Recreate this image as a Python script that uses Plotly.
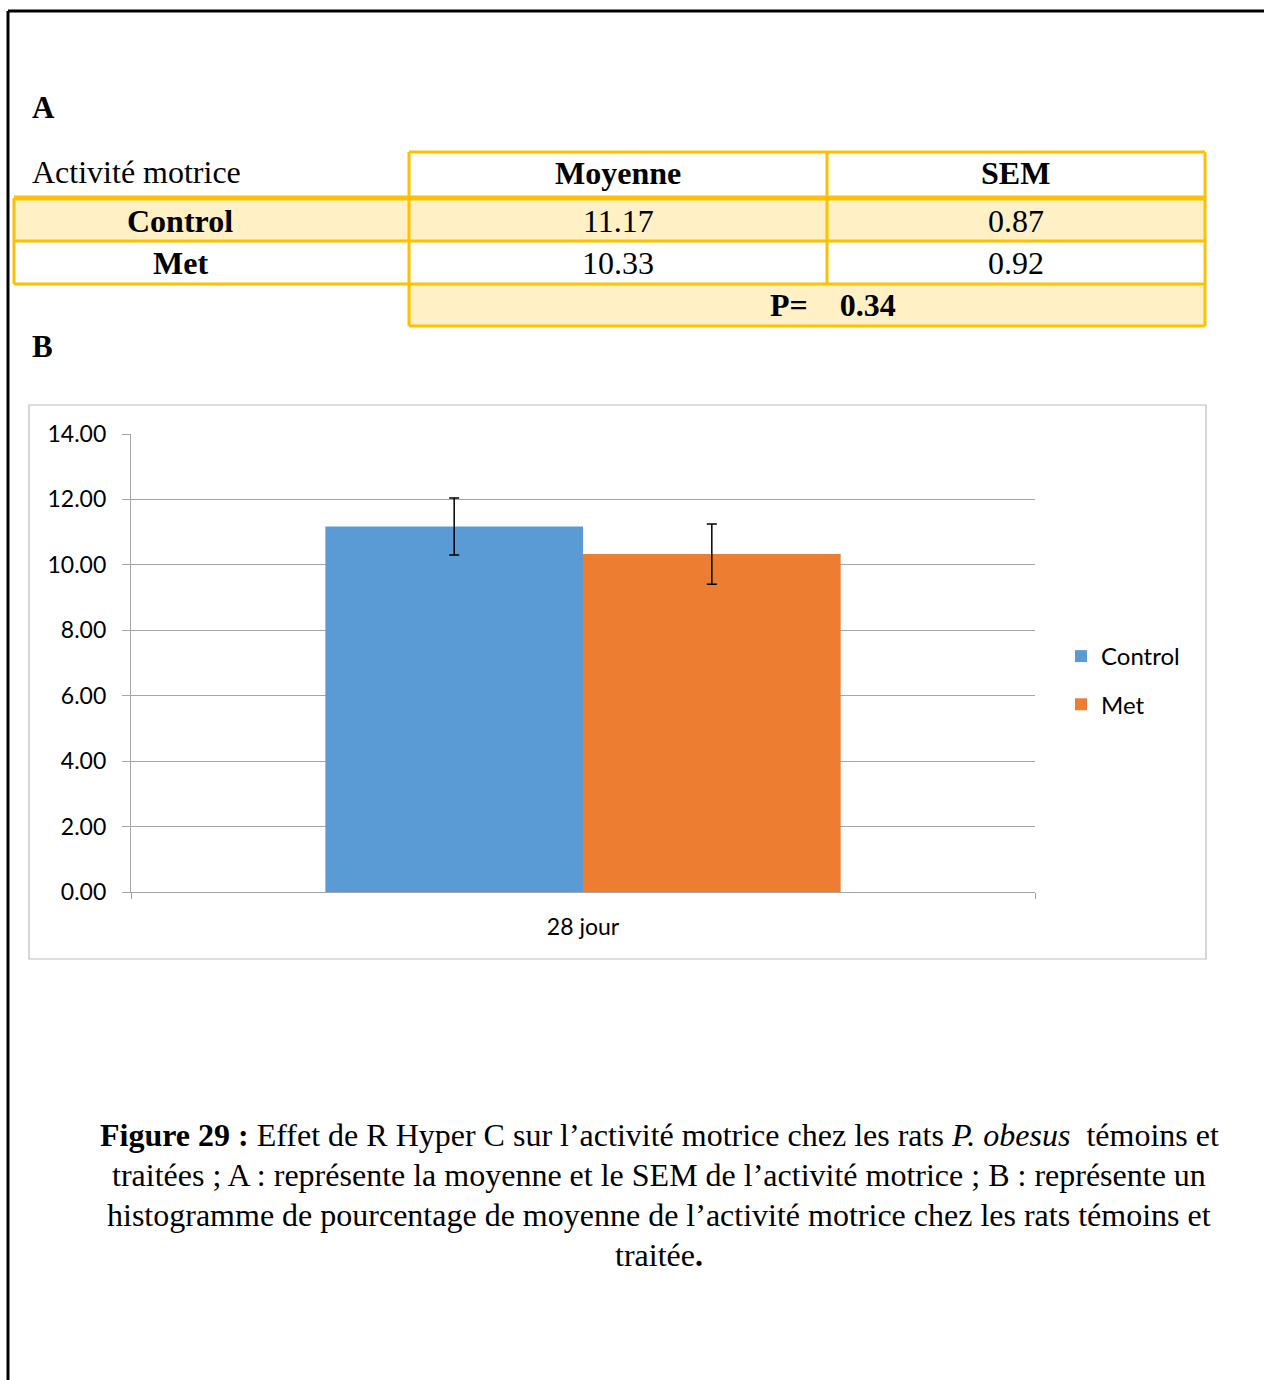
import plotly.graph_objects as go

W, H = 1264, 1380

# ---- data ----
groups = ["Control", "Met"]
day_label = ["28 jour"]
means = [11.17, 10.33]
sems = [0.87, 0.92]
p_value = 0.34
table_title = "Activité motrice"
col_headers = ["Moyenne", "SEM"]
bar_colors = ["#5B9BD5", "#ED7D31"]
y_ticks = [0, 2, 4, 6, 8, 10, 12, 14]
caption_lines = [
    "<b>Figure 29 :</b> Effet de R Hyper C sur l’activité motrice chez les rats <i>P. obesus</i>\u00a0 témoins et",
    "traitées ; A : représente la moyenne et le SEM de l’activité motrice ; B : représente un",
    "histogramme de pourcentage de moyenne de l’activité motrice chez les rats témoins et",
    "traitée<b>.</b>",
]

def px(x):
    return x / W

def py(y):
    return 1 - y / H

SERIF = "Liberation Serif, Times New Roman, serif"
SANS = "Lato, Carlito, Calibri, sans-serif"
YEL = "#FFC000"
YFILL = "#FFF0C6"

fig = go.Figure()
for g, m, s, c in zip(groups, means, sems, bar_colors):
    fig.add_trace(go.Bar(
        name=g, x=day_label, y=[m], marker=dict(color=c, line=dict(width=0)),
        error_y=dict(type="data", array=[s], visible=True, color="black",
                     thickness=1.5, width=5),
        legendgroup=g,
    ))

shapes = []
annotations = []

def line(x0, y0, x1, y1, color, width):
    shapes.append(dict(type="line", xref="paper", yref="paper",
                       x0=px(x0), y0=py(y0), x1=px(x1), y1=py(y1),
                       line=dict(color=color, width=width), layer="above"))

def rect(x0, y0, x1, y1, fill=None, color=None, width=0, layer="below"):
    shapes.append(dict(type="rect", xref="paper", yref="paper",
                       x0=px(x0), y0=py(y0), x1=px(x1), y1=py(y1),
                       fillcolor=fill if fill else "rgba(0,0,0,0)",
                       line=dict(color=color if color else "rgba(0,0,0,0)", width=width),
                       layer=layer))

def text(t, x, y, size=32, family=SERIF, xanchor="center", color="black"):
    annotations.append(dict(text=t, x=px(x), y=py(y), xref="paper", yref="paper",
                            showarrow=False, xanchor=xanchor, yanchor="middle",
                            font=dict(family=family, size=size, color=color)))

# page border
line(8, 11, 1264, 11, "black", 3)
line(8, 11, 8, 1380, "black", 3)

# table fills
rect(14, 198, 1205, 241, fill=YFILL)
rect(409, 284, 1205, 326, fill=YFILL)

# table borders
line(409, 152, 1205, 152, YEL, 3)
line(14, 198, 1205, 198, YEL, 5)
line(14, 241, 1205, 241, YEL, 3)
line(14, 284, 1205, 284, YEL, 3)
line(409, 326, 1205, 326, YEL, 3)
line(14, 198, 14, 284, YEL, 3)
line(409, 152, 409, 326, YEL, 3)
line(827, 152, 827, 284, YEL, 3)
line(1205, 152, 1205, 326, YEL, 3)

# table text
text("<b>A</b>", 30, 108, xanchor="left", size=31)
text(table_title, 30, 172, xanchor="left", size=32)
text(f"<b>{col_headers[0]}</b>", 618, 173)
text(f"<b>{col_headers[1]}</b>", 1016, 173)
row_y = [221, 263]
for g, m, s, ry in zip(groups, means, sems, row_y):
    text(f"<b>{g}</b>", 180, ry)
    text(f"{m:.2f}", 618, ry)
    text(f"{s:.2f}", 1016, ry)
text(f"<b>P=\u00a0\u00a0\u00a0 {p_value:.2f}</b>", 833, 305)
text("<b>B</b>", 30, 347, xanchor="left", size=31)

# chart box
rect(29, 405, 1206, 959, color="#BDBDBD", width=1.2)

# caption
cap_y = [1135, 1175, 1215, 1255]
for t, cy in zip(caption_lines, cap_y):
    text(t, 659, cy, size=32)

fig.update_layout(
    width=W, height=H,
    margin=dict(l=0, r=0, t=0, b=0, pad=0, autoexpand=False),
    paper_bgcolor="white", plot_bgcolor="white",
    barmode="group", bargap=0.43, bargroupgap=0,
    shapes=shapes, annotations=annotations,
    showlegend=True,
    legend=dict(x=px(1061), y=py(634), xanchor="left", yanchor="top",
                font=dict(family=SANS, size=24, color="black"),
                traceorder="grouped", tracegroupgap=14, itemwidth=30,
                bgcolor="rgba(0,0,0,0)"),
    xaxis=dict(domain=[px(131), px(1035)], showline=True, linecolor="#A6A6A6", linewidth=1.2,
               ticks="outside", tickson="boundaries", ticklen=6, tickcolor="#A6A6A6",
               tickfont=dict(family=SANS, size=23, color="black"), ticklabelstandoff=14,
               showgrid=False, zeroline=False, automargin=False),
    yaxis=dict(domain=[1 - 892 / H, 1 - 434 / H], range=[0, 14], tickvals=y_ticks,
               tickformat=".2f", showline=True, linecolor="#A6A6A6", linewidth=1.2,
               ticks="outside", ticklen=8, tickcolor="#A6A6A6",
               showgrid=True, gridcolor="#A6A6A6", gridwidth=1.2, zeroline=False,
               tickfont=dict(family=SANS, size=23, color="black"), ticklabelstandoff=11,
               automargin=False),
)

fig.write_html("out.html", config={"displayModeBar": False},
               post_script="document.body.style.margin='0';")
